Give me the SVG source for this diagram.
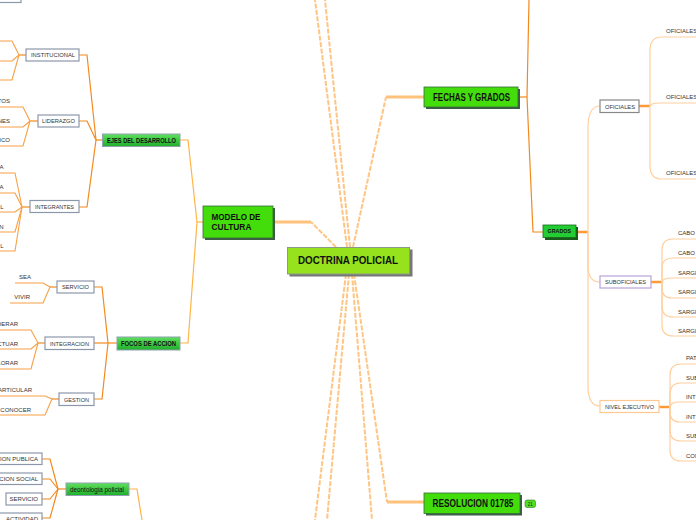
<svg xmlns="http://www.w3.org/2000/svg" width="696" height="520" viewBox="0 0 696 520">
<defs>
<linearGradient id="gg" x1="0" y1="0" x2="0" y2="1"><stop offset="0" stop-color="#5fe05f"/><stop offset="1" stop-color="#1fae2a"/></linearGradient>
</defs>
<style>
.t{font-family:"Liberation Sans",Arial,sans-serif}
.mn{font-weight:bold;fill:#111}
.sm{font-size:6px;fill:#333}
.box{fill:#fff;stroke:#8d97ab;stroke-width:1.2}
.gbox{fill:url(#gg);stroke:#8fa0b0;stroke-width:1}
.c1{fill:none;stroke:#f28a1e;stroke-width:1.2}
.c2{fill:none;stroke:#ffb445;stroke-width:1.2}
.cc{fill:none;stroke:#ffc584;stroke-width:2;stroke-dasharray:5 1.5}
.ch{fill:none;stroke:#ffc27d;stroke-width:3}
.cr{fill:none;stroke:#ffcf9f;stroke-width:1.2}
.st{fill:none;stroke:#ff9a3c;stroke-width:2.5}
.leaf{fill:none;stroke:#f7a045;stroke-width:1.1}
</style>
<g id="connectors">
<!-- center -->
<polyline class="cc" points="347,247 315,0"/>
<polyline class="cc" points="350,247 325,0"/>
<polyline class="cc" points="336,247 311,222"/>
<polyline class="ch" points="311,222 273,222"/>
<polyline class="cc" points="353,247 386,97"/>
<polyline class="ch" points="386,97 424,97"/>
<polyline class="cc" points="346,274 315,520"/>
<polyline class="cc" points="349,274 327,520"/>
<polyline class="cc" points="352,274 372,520"/>
<polyline class="cc" points="354,274 387,502"/>
<polyline class="ch" points="387,502 424,502"/>
<!-- modelo -->
<polyline class="c2" points="203,222 197,222"/>
<polyline class="c2" points="197,222 188,140 180,140"/>
<polyline class="c2" points="197,222 188,343 180,343"/>
<!-- ejes -->
<polyline class="c1" points="102,140 96,140"/>
<polyline class="c1" points="96,140 87,55 79,55"/>
<polyline class="c1" points="96,140 87,121 79,121"/>
<polyline class="c1" points="96,140 87,207 79,207"/>
<!-- institucional leaves -->
<polyline class="c1" points="26,55 19,55"/>
<polyline class="leaf" points="0,41 12,41 19,55"/>
<polyline class="leaf" points="0,61 12,61 19,55"/>
<polyline class="leaf" points="0,80 12,80 19,55"/>
<!-- liderazgo leaves -->
<polyline class="c1" points="38,121 30,121"/>
<polyline class="leaf" points="0,107 23,107 30,121"/>
<polyline class="leaf" points="0,127 23,127 30,121"/>
<polyline class="leaf" points="0,146 23,146 30,121"/>
<!-- integrantes leaves -->
<polyline class="c1" points="30,207 22,207"/>
<polyline class="leaf" points="0,173 15,173 22,207"/>
<polyline class="leaf" points="0,193 15,193 22,207"/>
<polyline class="leaf" points="0,212 15,212 22,207"/>
<polyline class="leaf" points="0,232 15,232 22,207"/>
<polyline class="leaf" points="0,251 15,251 22,207"/>
<!-- focos -->
<polyline class="c1" points="117,343 108,343"/>
<polyline class="c1" points="108,343 102,287 94,287"/>
<polyline class="c1" points="108,343 94,343"/>
<polyline class="c1" points="108,343 102,399 94,399"/>
<polyline class="c1" points="57,287 50,287"/>
<polyline class="leaf" points="15,283 43,283 50,287"/>
<polyline class="leaf" points="10,303 43,303 50,287"/>
<polyline class="c1" points="45,343 38,343"/>
<polyline class="leaf" points="0,330 31,330 38,343"/>
<polyline class="leaf" points="0,349 31,349 38,343"/>
<polyline class="leaf" points="0,369 31,369 38,343"/>
<polyline class="c1" points="59,399 52,399"/>
<polyline class="leaf" points="0,396 45,396 52,399"/>
<polyline class="leaf" points="0,415 45,415 52,399"/>
<!-- deontologia -->
<polyline class="c1" points="66,489 58,489"/>
<polyline class="c1" points="42,459 50,459 58,489"/>
<polyline class="c1" points="42,479 50,479 58,489"/>
<polyline class="c1" points="42,499 50,499 58,489"/>
<polyline class="c1" points="42,518 50,518 58,489"/>
<polyline class="c2" points="129,489 137,489 142,520"/>
<!-- fechas -->
<polyline class="c1" points="518,97 527,97"/>
<polyline class="c1" points="529,0 527,97"/>
<polyline class="c1" points="527,97 533,232 543,232"/>
<!-- grados -->
<polyline class="st" points="577,232 588,232"/>
<path class="cr" d="M588,232 V128 Q588,106 600,106"/>
<path class="cr" d="M588,232 V266 Q588,282 600,282"/>
<path class="cr" d="M588,232 V386 Q588,406 600,406"/>
<!-- oficiales -->
<polyline class="st" points="639,106 650,106"/>
<path class="cr" d="M650,106 V50 Q650,37 662,37 H696"/>
<path class="cr" d="M650,106 Q651,103 660,103 H696"/>
<path class="cr" d="M650,106 V166 Q650,179 662,179 H696"/>
<!-- suboficiales -->
<polyline class="st" points="651,282 662,282"/>
<path class="cr" d="M662,282 V250 Q662,239 673,239 H696"/>
<path class="cr" d="M662,282 V268 Q662,258 673,258 H696"/>
<path class="cr" d="M662,282 Q663,278 672,278 H696"/>
<path class="cr" d="M662,282 V288 Q662,298 672,298 H696"/>
<path class="cr" d="M662,282 V306 Q662,317 673,317 H696"/>
<path class="cr" d="M662,282 V325 Q662,336 673,336 H696"/>
<!-- nivel ejecutivo -->
<polyline class="st" points="659,407 670,407"/>
<path class="cr" d="M670,407 V375 Q670,364 681,364 H696"/>
<path class="cr" d="M670,407 V394 Q670,383 681,383 H696"/>
<path class="cr" d="M670,407 Q671,402 679,402 H696"/>
<path class="cr" d="M670,407 V412 Q670,422 680,422 H696"/>
<path class="cr" d="M670,407 V430 Q670,441 681,441 H696"/>
<path class="cr" d="M670,407 V450 Q670,461 681,461 H696"/>
</g>

<g id="top-left-box"><rect class="box" x="-2" y="-10" width="23" height="12.5"/></g>

<g id="doctrina">
<rect x="289.5" y="249.5" width="123" height="27" fill="#777"/>
<rect x="287.5" y="247.5" width="122" height="26.5" fill="#96e21c" stroke="#8a9a8a" stroke-width="1"/>
<text class="t mn" x="298" y="263.5" font-size="10" textLength="100" lengthAdjust="spacingAndGlyphs">DOCTRINA POLICIAL</text>
</g>

<g id="modelo">
<rect x="205" y="208" width="70" height="32" fill="#3d5c48"/>
<rect x="203" y="206" width="70" height="32" fill="#44dd0c" stroke="#3a6a3a" stroke-width="0.8"/>
<text class="t mn" x="211.5" y="219.5" font-size="9.5" textLength="49" lengthAdjust="spacingAndGlyphs">MODELO DE</text>
<text class="t mn" x="211.5" y="229.5" font-size="9.5" textLength="40" lengthAdjust="spacingAndGlyphs">CULTURA</text>
</g>

<g id="fechas">
<rect x="426" y="89" width="94" height="20" fill="#3d5c48"/>
<rect x="424" y="87" width="94" height="20" fill="#44dd0c" stroke="#3a6a3a" stroke-width="0.8"/>
<text class="t mn" x="433" y="100.5" font-size="10" textLength="77" lengthAdjust="spacingAndGlyphs">FECHAS Y GRADOS</text>
</g>

<g id="resolucion">
<rect x="426" y="495" width="96" height="20.5" fill="#3d5c48"/>
<rect x="424" y="493" width="96" height="20.5" fill="#44dd0c" stroke="#3a6a3a" stroke-width="0.8"/>
<text class="t mn" x="432.5" y="506.5" font-size="10" textLength="81" lengthAdjust="spacingAndGlyphs">RESOLUCION 01785</text>
<rect x="525" y="500" width="10.5" height="7.5" rx="2" fill="#55dd22" stroke="#2a7a2a" stroke-width="0.6"/>
<text class="t" x="530.2" y="505.8" font-size="4.5" text-anchor="middle" fill="#113311">21</text>
</g>

<g id="ejes">
<rect class="gbox" x="102.5" y="134" width="77.5" height="12.5"/>
<text class="t mn" x="107" y="142.8" font-size="7" textLength="69" lengthAdjust="spacingAndGlyphs">EJES DEL DESARROLLO</text>
</g>
<g id="focos">
<rect class="gbox" x="117" y="337" width="63" height="13"/>
<text class="t mn" x="121" y="345.8" font-size="7" textLength="55" lengthAdjust="spacingAndGlyphs">FOCOS DE ACCION</text>
</g>
<g id="deontologia">
<rect class="gbox" x="66" y="483" width="63" height="12.5"/>
<text class="t" x="70" y="491.5" font-size="7" fill="#111" textLength="54" lengthAdjust="spacingAndGlyphs">deontologia policial</text>
</g>

<g id="institucional"><rect class="box" x="26" y="49" width="53" height="12"/><text class="t sm" x="31" y="57.2" textLength="44" lengthAdjust="spacingAndGlyphs">INSTITUCIONAL</text></g>
<g id="liderazgo"><rect class="box" x="38" y="115" width="41" height="12"/><text class="t sm" x="42" y="123.2" textLength="33" lengthAdjust="spacingAndGlyphs">LIDERAZGO</text></g>
<g id="integrantes"><rect class="box" x="30" y="200.5" width="49" height="12"/><text class="t sm" x="35" y="208.8" textLength="39" lengthAdjust="spacingAndGlyphs">INTEGRANTES</text></g>
<g id="servicio"><rect class="box" x="57" y="281" width="37" height="12"/><text class="t sm" x="62" y="289.2" textLength="27" lengthAdjust="spacingAndGlyphs">SERVICIO</text></g>
<g id="integracion"><rect class="box" x="45" y="337" width="49" height="12.5"/><text class="t sm" x="50" y="345.5" textLength="39" lengthAdjust="spacingAndGlyphs">INTEGRACION</text></g>
<g id="gestion"><rect class="box" x="59" y="393" width="35" height="12.5"/><text class="t sm" x="64" y="401.6" textLength="25" lengthAdjust="spacingAndGlyphs">GESTION</text></g>

<g id="left-leaves" class="t sm" text-anchor="end">
<text x="10" y="103">TOS</text>
<text x="10" y="122.5">NES</text>
<text x="10" y="142">ICO</text>
<text x="3.5" y="169">A</text>
<text x="3.5" y="189">A</text>
<text x="3.5" y="209">L</text>
<text x="3.5" y="228.5">N</text>
<text x="3.5" y="247.5">L</text>
<text x="31" y="279">SEA</text>
<text x="30" y="299">VIVIR</text>
<text x="18" y="326">DERAR</text>
<text x="18" y="345.5">CTUAR</text>
<text x="18" y="365">LORAR</text>
<text x="32" y="392">ARTICULAR</text>
<text x="31" y="411.5">CONOCER</text>
</g>

<g id="deonto-children">
<rect class="box" x="-2" y="453" width="44" height="11.5"/>
<rect class="box" x="-2" y="473" width="44" height="11.5"/>
<rect class="box" x="6" y="493" width="36" height="12"/>
<rect class="box" x="-2" y="513" width="44" height="12"/>
<g class="t sm" text-anchor="end">
<text x="38" y="461">CION PUBLICA</text>
<text x="38" y="481">CION SOCIAL</text>
<text x="38" y="501">SERVICIO</text>
<text x="38" y="520.5">ACTIVIDAD</text>
</g>
</g>

<g id="grados">
<rect x="545" y="227" width="33" height="13" fill="#1a5a1a"/>
<rect x="543" y="225" width="33" height="12.5" fill="#22cc33" stroke="#1a6a1a" stroke-width="0.8"/>
<text class="t mn" x="547.5" y="233.3" font-size="6" textLength="23.5" lengthAdjust="spacingAndGlyphs">GRADOS</text>
</g>
<g id="oficiales"><rect x="600" y="100" width="39" height="12.5" fill="#fff" stroke="#888" stroke-width="1.2"/><text class="t sm" x="605" y="108.5" textLength="30" lengthAdjust="spacingAndGlyphs">OFICIALES</text></g>
<g id="suboficiales"><rect x="600" y="276" width="51" height="12" fill="#fff" stroke="#b9a2d8" stroke-width="1.2"/><text class="t sm" x="605" y="284.2" textLength="41" lengthAdjust="spacingAndGlyphs">SUBOFICIALES</text></g>
<g id="nivel-ejecutivo"><rect x="600" y="400.5" width="59" height="12" fill="#fff" stroke="#ffc890" stroke-width="1.2"/><text class="t sm" x="605" y="408.8" textLength="49" lengthAdjust="spacingAndGlyphs">NIVEL EJECUTIVO</text></g>

<g id="right-leaves" class="t sm">
<text x="666" y="33">OFICIALES</text>
<text x="666" y="99">OFICIALES</text>
<text x="666" y="175">OFICIALES</text>
<text x="678" y="235">CABO S</text>
<text x="678" y="255">CABO I</text>
<text x="678" y="274.5">SARGE</text>
<text x="678" y="294">SARGE</text>
<text x="678" y="313.5">SARGE</text>
<text x="678" y="333">SARGE</text>
<text x="686" y="360">PAT</text>
<text x="686" y="379.5">SUB</text>
<text x="686" y="398.5">INT</text>
<text x="686" y="418.5">INT</text>
<text x="686" y="438">SUB</text>
<text x="686" y="457.5">CON</text>
</g>
</svg>
